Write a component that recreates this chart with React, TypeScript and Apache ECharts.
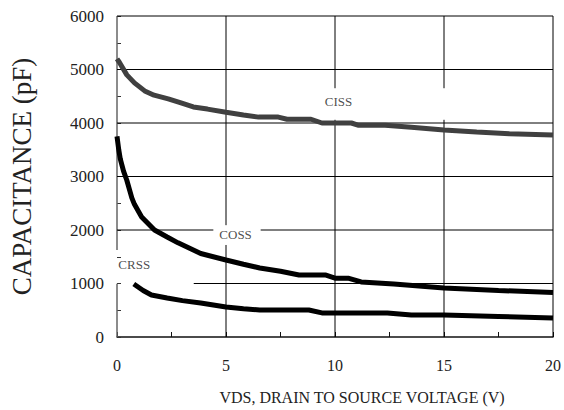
import React, { useEffect, useRef } from "react";
import * as echarts from "echarts";

const cissV = [0, 0.1, 0.45, 0.8, 1.27, 1.7, 2.35, 2.9, 3.5, 4.15, 5, 5.8, 6.5, 7.4, 7.8, 8.9, 9.4, 10.75, 11.05, 12.3, 13.5, 15, 16.5, 18, 20];
const cissC = [5200, 5140, 4900, 4750, 4600, 4520, 4450, 4380, 4300, 4260, 4200, 4150, 4110, 4110, 4070, 4070, 4000, 4000, 3960, 3960, 3920, 3870, 3830, 3800, 3775];

const cossV = [0, 0.08, 0.15, 0.3, 0.45, 0.68, 0.8, 1.13, 1.72, 2.3, 2.8, 3.84, 5, 5.8, 6.55, 7.5, 8.35, 9.55, 10, 10.6, 11.2, 12.7, 15, 17.5, 20];
const cossC = [3750, 3500, 3330, 3100, 2930, 2600, 2480, 2245, 2000, 1870, 1760, 1560, 1440, 1360, 1290, 1230, 1160, 1160, 1100, 1100, 1030, 990, 915, 870, 830];

const crssV = [0.77, 1.2, 1.58, 2.3, 3, 3.84, 5, 5.8, 6.55, 8.8, 9.4, 12.4, 13.5, 15, 17.5, 20];
const crssC = [990, 870, 785, 730, 680, 635, 560, 530, 505, 505, 450, 450, 410, 410, 385, 355];

const labelNames = ["CISS", "COSS", "CRSS"];
const labelV = [10.16, 5.44, 0.79];
const labelC = [4393, 1907, 1346];

// grid line positions
const gridX = [0, 5, 10, 15, 20];
const gridY = [1000, 2000, 3000, 4000, 5000, 6000];
const X_MIN = 0;
const X_MAX = 20;
const Y_MIN = 0;
const Y_MAX = 6000;

// blank areas around the labels where grid lines are interrupted (data units)
const boxX0 = [8.5, 4.42, -0.15];
const boxX1 = [16, 6.59, 3.52];
const boxY0 = [4060, 1720, 995];
const boxY1 = [4650, 2090, 1625];

const FONT = "Liberation Serif";

function pairs(xs: number[], ys: number[]) {
  return xs.map((x, i) => [x, ys[i]]);
}

// split an interval [a, b] by removing the given gaps
function cut(a: number, b: number, gaps: number[][]) {
  let segs = [[a, b]];
  gaps.forEach(([g0, g1]) => {
    const next: number[][] = [];
    segs.forEach(([s0, s1]) => {
      if (g1 <= s0 || g0 >= s1) {
        next.push([s0, s1]);
      } else {
        if (g0 > s0) next.push([s0, g0]);
        if (g1 < s1) next.push([g1, s1]);
      }
    });
    segs = next;
  });
  return segs;
}

const gridRows: number[][] = [];
gridX.forEach((v) => {
  const gaps = boxX0
    .map((x0, i) => (v >= x0 && v <= boxX1[i] ? [boxY0[i], boxY1[i]] : null))
    .filter((g) => g !== null) as number[][];
  cut(Y_MIN, Y_MAX, gaps).forEach(([s0, s1]) => gridRows.push([v, s0, v, s1]));
});
gridY.forEach((h) => {
  const gaps = boxY0
    .map((y0, i) => (h >= y0 && h <= boxY1[i] ? [boxX0[i], boxX1[i]] : null))
    .filter((g) => g !== null) as number[][];
  cut(X_MIN, X_MAX, gaps).forEach(([s0, s1]) => gridRows.push([s0, h, s1, h]));
});

export default function App() {
  const ref = useRef<HTMLDivElement>(null);
  useEffect(() => {
    if (!ref.current) return;
    const chart = echarts.init(ref.current, null, { renderer: "svg" });
    chart.setOption({
      animation: false,
      grid: { left: 115, right: 6, top: 16, bottom: 73, containLabel: false },
      xAxis: {
        type: "value",
        min: X_MIN,
        max: X_MAX,
        interval: 5,
        name: "VDS, DRAIN TO SOURCE VOLTAGE (V)",
        nameLocation: "middle",
        nameGap: 52,
        nameTextStyle: { fontFamily: FONT, fontSize: 16, color: "#222", padding: [0, 0, 0, 54] },
        axisLine: { show: true, lineStyle: { color: "#111", width: 1.5 } },
        axisTick: { show: true, inside: true, length: 5, lineStyle: { color: "#111" } },
        minorTick: { show: true, splitNumber: 2, length: 5, lineStyle: { color: "#111", width: 1 } },
        axisLabel: { fontFamily: FONT, fontSize: 16, color: "#222", margin: 20, formatter: (v: number) => String(v) },
        splitLine: { show: false },
      },
      yAxis: {
        type: "value",
        min: Y_MIN,
        max: Y_MAX,
        interval: 1000,
        name: "CAPACITANCE (pF)",
        nameLocation: "middle",
        nameGap: 82,
        nameTextStyle: { fontFamily: FONT, fontSize: 27, color: "#222" },
        axisLine: { show: false },
        axisTick: { show: true, inside: true, length: 4, lineStyle: { color: "#333" } },
        minorTick: { show: true, splitNumber: 2, length: 4, lineStyle: { color: "#333", width: 1 } },
        axisLabel: { fontFamily: FONT, fontSize: 17, color: "#222", margin: 13, formatter: (v: number) => String(v) },
        splitLine: { show: false },
      },
      series: [
        {
          name: "gridlines",
          type: "custom",
          z: 1,
          silent: true,
          clip: false,
          encode: { x: [0, 2], y: [1, 3] },
          data: gridRows,
          renderItem: (params: any, api: any) => {
            const x0 = api.value(0);
            const x1 = api.value(2);
            const p0 = api.coord([x0, api.value(1)]);
            const p1 = api.coord([x1, api.value(3)]);
            const isLeftAxis = x0 === X_MIN && x1 === X_MIN;
            return {
              type: "line",
              shape: { x1: p0[0], y1: p0[1], x2: p1[0], y2: p1[1] },
              style: { stroke: isLeftAxis ? "#666" : "#000", lineWidth: isLeftAxis ? 1.5 : 1 },
            };
          },
        },
        {
          name: "CISS",
          type: "line",
          data: pairs(cissV, cissC),
          showSymbol: false,
          symbol: "none",
          z: 5,
          lineStyle: { color: "#404040", width: 5 },
        },
        {
          name: "COSS",
          type: "line",
          data: pairs(cossV, cossC),
          showSymbol: false,
          symbol: "none",
          z: 5,
          lineStyle: { color: "#000", width: 5 },
        },
        {
          name: "CRSS",
          type: "line",
          data: pairs(crssV, crssC),
          showSymbol: false,
          symbol: "none",
          z: 5,
          lineStyle: { color: "#000", width: 5 },
        },
        {
          name: "labels",
          type: "scatter",
          z: 6,
          symbolSize: 0,
          data: labelNames.map((n, i) => [labelV[i], labelC[i], n]),
          label: {
            show: true,
            position: "inside",
            formatter: (p: any) => p.value[2],
            fontFamily: FONT,
            fontSize: 13,
            color: "#1a1a1a",
            textBorderWidth: 0,
          },
        },
      ],
    });
    return () => chart.dispose();
  }, []);
  return <div ref={ref} style={{ width: 564, height: 410, position: "absolute", left: 0, top: 0, background: "#fff" }} />;
}
